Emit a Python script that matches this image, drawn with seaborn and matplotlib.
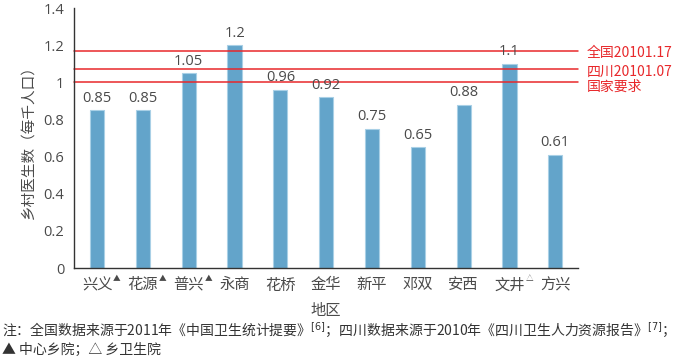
import matplotlib
matplotlib.use("Agg")
import matplotlib.pyplot as plt
import matplotlib.transforms as mtransforms
import pandas as pd
import seaborn as sns

# Data
regions = ["兴义", "花源", "普兴", "永商", "花桥", "金华", "新平", "邓双", "安西", "文井", "方兴"]
marks = ["▲", "▲", "▲", "", "", "", "", "", "", "△", ""]
doctors = [0.85, 0.85, 1.05, 1.2, 0.96, 0.92, 0.75, 0.65, 0.88, 1.1, 0.61]
value_labels = ["0.85", "0.85", "1.05", "1.2", "0.96", "0.92", "0.75", "0.65", "0.88", "1.1", "0.61"]
ref_values = [1.17, 1.07, 1.0]
ref_labels = ["全国20101.17", "四川20101.07", "国家要求"]
yticks = [0, 0.2, 0.4, 0.6, 0.8, 1.0, 1.2, 1.4]
ytick_labels = ["0", "0.2", "0.4", "0.6", "0.8", "1", "1.2", "1.4"]

sns.set_style("white")
plt.rcParams["font.family"] = ["Noto Sans CJK SC", "DejaVu Sans"]

text_c = "#4a4a4a"
bar_c = "#63a4ca"
red = "#e8282b"

df = pd.DataFrame({"region": regions, "value": doctors})

fig = plt.figure(figsize=(7, 3.57), dpi=100)
ax = fig.add_axes([0.106, 0.249, 0.720, 0.728])

sns.barplot(data=df, x="region", y="value", color=bar_c, width=0.31,
            edgecolor="#a9d0e6", linewidth=0.8, saturation=1, ax=ax)

for i, (v, lab) in enumerate(zip(doctors, value_labels)):
    ax.text(i, v + 0.025, lab, ha="center", va="bottom", fontsize=10.5, color=text_c,
            family=["Open Sans", "DejaVu Sans"])

# reference lines, labels nudged down so they do not collide
label_shift = [-1.5, -1.5, -3]
for v, lab, dy in zip(ref_values, ref_labels, label_shift):
    ax.axhline(v, color=red, lw=1.1, clip_on=False)
    ax.annotate(lab, xy=(1, v), xycoords=("axes fraction", "data"), xytext=(6, dy),
                textcoords="offset points", ha="left", va="center", color=red, fontsize=10)

ax.set_ylim(0, 1.4)
ax.set_xlim(-0.5, len(regions) - 0.5)
ax.set_yticks(yticks)
ax.set_yticklabels(ytick_labels, family=["Open Sans", "DejaVu Sans"])
ax.set_xticks(range(len(regions)))
ax.set_xticklabels(regions)
ax.set_xticks([i + 0.5 for i in range(-1, len(regions))], minor=True)
ax.tick_params(axis="x", which="major", length=0, pad=6, labelsize=11, labelcolor=text_c)
ax.tick_params(axis="x", which="minor", direction="in", length=4, color="#333333")
ax.tick_params(axis="y", direction="in", length=4, color="#333333", labelsize=10.5,
               labelcolor=text_c, pad=7)

# small superscript marks after the tick names
for i, m in enumerate(marks):
    if m:
        off = mtransforms.offset_copy(ax.get_xaxis_transform(), fig=fig, x=11.5, y=-5, units="points")
        ax.text(i, 0, m, transform=off, fontsize=5.5, color=text_c, ha="left", va="top")

for s in ["top", "right"]:
    ax.spines[s].set_visible(False)
for s in ["left", "bottom"]:
    ax.spines[s].set_color("#333333")
    ax.spines[s].set_linewidth(1.0)

ax.set_xlabel("地区", fontsize=11, color=text_c, labelpad=6)
ax.set_ylabel("乡村医生数（每千人口）", fontsize=10.5, color=text_c, labelpad=6)

fig.text(0.003, 0.078, "注：全国数据来源于2011年《中国卫生统计提要》$^{[6]}$；四川数据来源于2010年《四川卫生人力资源报告》$^{[7]}$；",
         fontsize=10, color="#333333", va="center")
fig.text(0.003, 0.020, "▲ 中心乡院；△ 乡卫生院", fontsize=10, color="#333333", va="center")

fig.savefig("out.png", dpi=100)
